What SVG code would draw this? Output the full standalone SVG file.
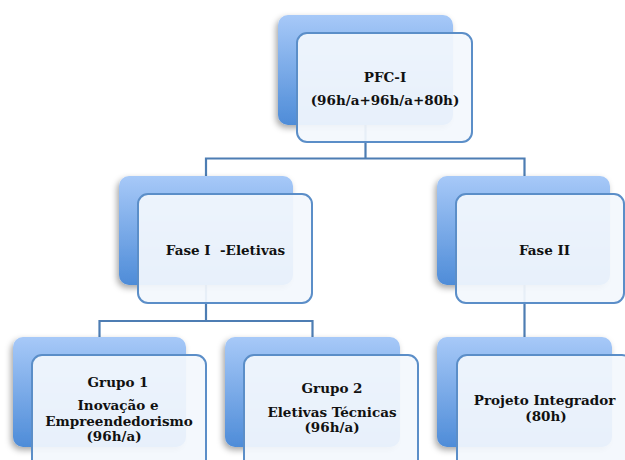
<svg xmlns="http://www.w3.org/2000/svg" width="625" height="460" viewBox="0 0 625 460">
<defs>
<linearGradient id="g" x1="0" y1="0" x2="0" y2="1">
<stop offset="0" stop-color="#a7c9f8"/>
<stop offset="1" stop-color="#4e8cd8"/>
</linearGradient>
<filter id="sh" x="-20%" y="-20%" width="140%" height="150%">
<feDropShadow dx="-2" dy="3" stdDeviation="3" flood-color="#000" flood-opacity="0.35"/>
</filter>
<style>
.back{fill:url(#g);filter:url(#sh)}
.front{fill:#f3f7fd;fill-opacity:0.93;stroke:#5b8ec8;stroke-width:2}
.conn{fill:none;stroke:#4d7db3;stroke-width:2.2}
text{font-family:"DejaVu Serif","Liberation Serif",serif;font-weight:bold;font-size:13.5px;fill:#111;text-anchor:middle}
</style>
</defs>
<rect width="625" height="460" fill="#fff"/>
<g id="connectors">
<path class="conn" d="M365.5 125 V158.5 M206 176 V158.5 H524.5 V176"/>
<path class="conn" d="M206 285 V321 M99.5 337 V321 H312.5 V337"/>
<path class="conn" d="M524.5 285 V337"/>
</g>
<g id="pfc">
<rect class="back" x="278" y="15" width="175" height="110" rx="10"/>
<rect class="front" x="297" y="33" width="175" height="109" rx="10"/>
<text x="385" y="82">PFC-I</text>
<text x="385" y="105">(96h/a+96h/a+80h)</text>
</g>
<g id="fase1">
<rect class="back" x="119" y="176" width="174" height="109" rx="10"/>
<rect class="front" x="138" y="194" width="174" height="109" rx="10"/>
<text x="225.5" y="255" xml:space="preserve">Fase I  -Eletivas</text>
</g>
<g id="fase2">
<rect class="back" x="437" y="176" width="173" height="109" rx="10"/>
<rect class="front" x="456" y="194" width="168" height="109" rx="10"/>
<text x="544.5" y="255">Fase II</text>
</g>
<g id="grupo1">
<rect class="back" x="13" y="337" width="173" height="110" rx="10"/>
<rect class="front" x="32" y="355" width="174" height="115" rx="10"/>
<text x="118" y="387">Grupo 1</text>
<text x="118" y="410">Inovação e</text>
<text x="119" y="426">Empreendedorismo</text>
<text x="114" y="441">(96h/a)</text>
</g>
<g id="grupo2">
<rect class="back" x="225" y="337" width="175" height="110" rx="10"/>
<rect class="front" x="244" y="355" width="174" height="115" rx="10"/>
<text x="332" y="393">Grupo 2</text>
<text x="332" y="417">Eletivas Técnicas</text>
<text x="332" y="432">(96h/a)</text>
</g>
<g id="projeto">
<rect class="back" x="437" y="337" width="175" height="110" rx="10"/>
<rect class="front" x="457" y="355" width="175" height="115" rx="10"/>
<text x="544.5" y="405">Projeto Integrador</text>
<text x="546" y="421">(80h)</text>
</g>
</svg>
